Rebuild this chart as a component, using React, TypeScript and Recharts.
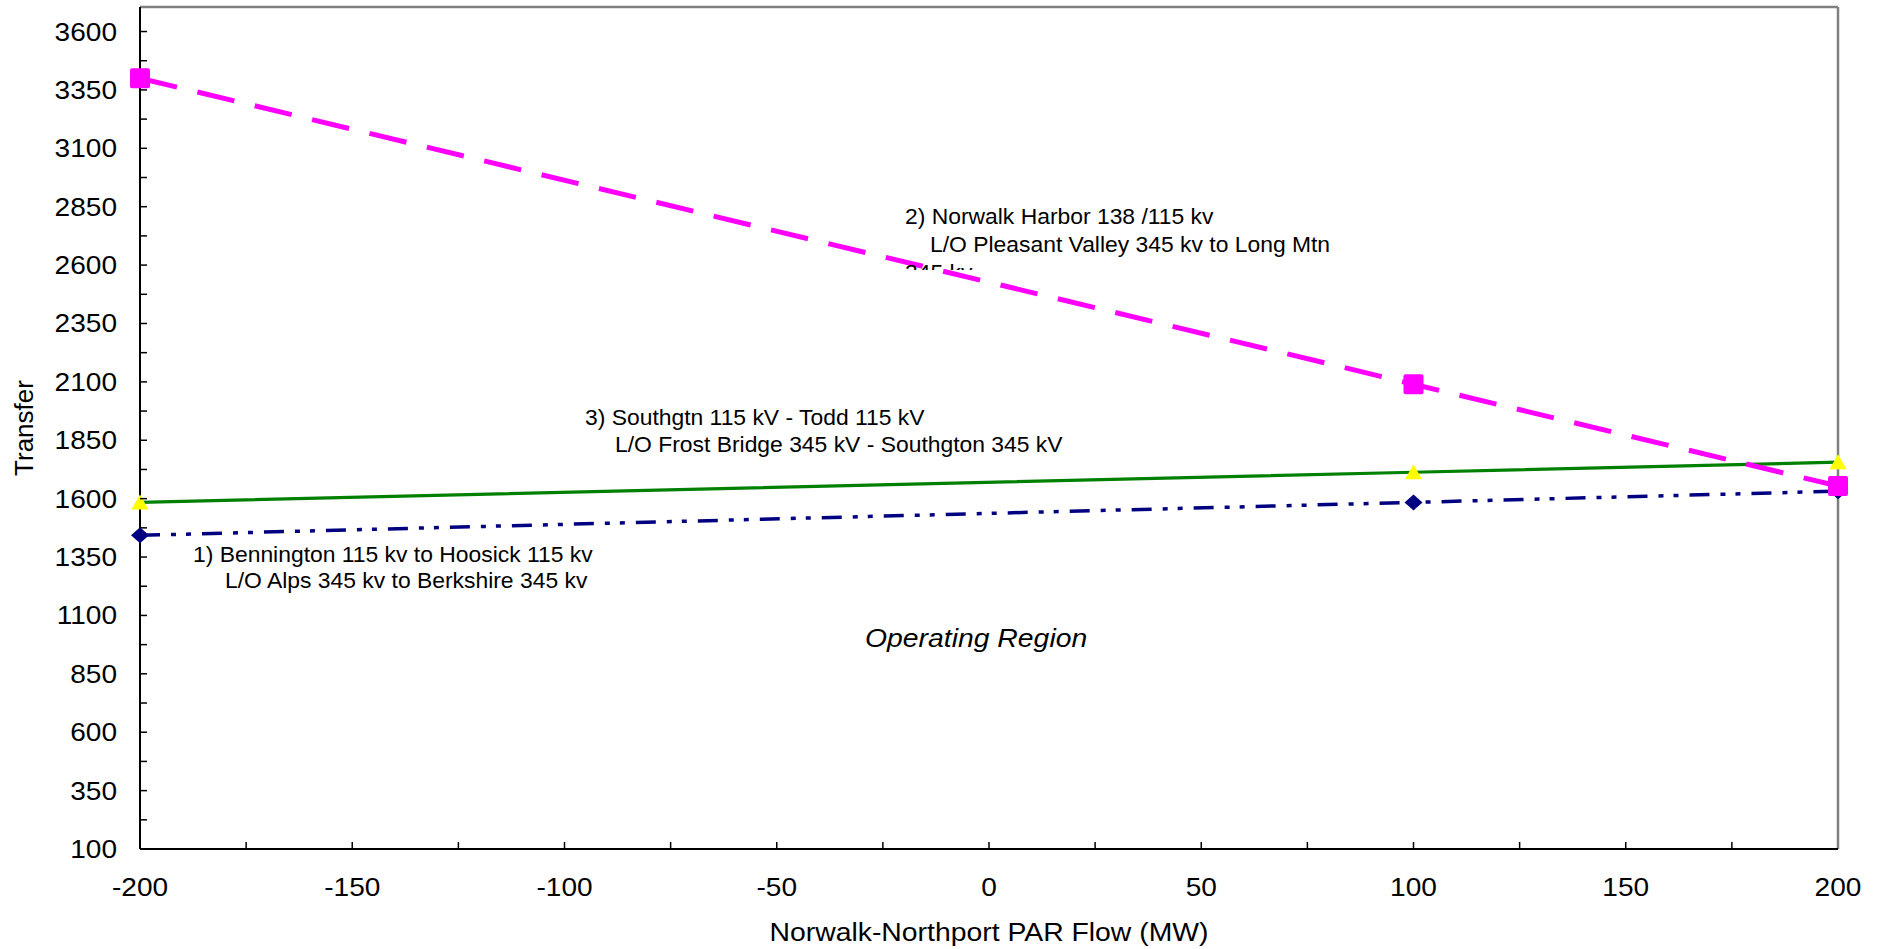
import React from 'react';
import { Line, LineChart, ReferenceLine, XAxis, YAxis } from 'recharts';

// PAR flow points (MW)
const flows = [-200, 100, 200];
// 1) Bennington 115 - Hoosick 115
const bennington = [1443, 1584, 1632];
// 2) Norwalk Harbor 138/115
const norwalkHarbor = [3400, 2090, 1654];
// 3) Southgtn 115 - Todd 115
const southgtn = [1584, 1713, 1756];

const xTicks = [-200, -175, -150, -125, -100, -75, -50, -25, 0, 25, 50, 75, 100, 125, 150, 175, 200];
const yTicks = [
  100, 225, 350, 475, 600, 725, 850, 975, 1100, 1225, 1350, 1475, 1600, 1725, 1850, 1975,
  2100, 2225, 2350, 2475, 2600, 2725, 2850, 2975, 3100, 3225, 3350, 3475, 3600,
];
const yMax = 3705;

const data = flows.map((f, i) => ({
  flow: f,
  bennington: bennington[i],
  norwalkHarbor: norwalkHarbor[i],
  southgtn: southgtn[i],
}));

const FONT = '"Liberation Sans", Arial, sans-serif';

// text slightly stretched sideways, like the original export
const SText = ({ x, y, size, sx = 1, anchor = 'start', italic = false, children }: any) => (
  <g transform={`translate(${x},${y}) scale(${sx},1)`}>
    <text
      x={0}
      y={0}
      textAnchor={anchor}
      fontSize={size}
      fontFamily={FONT}
      fontStyle={italic ? 'italic' : 'normal'}
      fill="#000"
    >
      {children}
    </text>
  </g>
);

const XTick = (props: any) => {
  const { x, y, payload } = props;
  const v = payload.value;
  const edge = v === -200 || v === 200;
  return (
    <g>
      {!edge && <line x1={x} x2={x} y1={y} y2={y - 7} stroke="#000" strokeWidth={1.5} />}
      {v % 50 === 0 && (
        <SText x={x} y={y + 47} size={25.5} sx={1.1} anchor="middle">
          {v}
        </SText>
      )}
    </g>
  );
};

const YTick = (props: any) => {
  const { x, y, payload } = props;
  const v = payload.value;
  const major = (v - 100) % 250 === 0;
  return (
    <g>
      {v !== 100 && <line x1={x} x2={x + 7} y1={y} y2={y} stroke="#000" strokeWidth={1.5} />}
      {major && (
        <SText x={x - 23} y={y + 9} size={25.5} sx={1.1} anchor="end">
          {v}
        </SText>
      )}
    </g>
  );
};

const SquareDot = (props: any) => {
  const { cx, cy } = props;
  if (cx == null || cy == null) return <g />;
  return <rect x={cx - 10} y={cy - 10} width={20} height={20} rx={2} fill="#ff00ff" />;
};

const TriangleDot = (props: any) => {
  const { cx, cy } = props;
  if (cx == null || cy == null) return <g />;
  return <path d={`M${cx},${cy - 8} L${cx + 8.5},${cy + 7} L${cx - 8.5},${cy + 7} Z`} fill="#ffff00" />;
};

const DiamondDot = (props: any) => {
  const { cx, cy } = props;
  if (cx == null || cy == null) return <g />;
  return <path d={`M${cx},${cy - 8} L${cx + 9},${cy} L${cx},${cy + 8} L${cx - 9},${cy} Z`} fill="#000080" />;
};

export default function App() {
  return (
    <div style={{ position: 'absolute', left: 0, top: 0, width: 1879, height: 949, background: '#fff' }}>
      <LineChart width={1879} height={949} data={data} margin={{ top: 7, right: 41, bottom: 0, left: 0 }}>
        <XAxis
          dataKey="flow"
          type="number"
          domain={[-200, 200]}
          ticks={xTicks}
          interval={0}
          tickSize={0}
          tickMargin={0}
          tickLine={false}
          height={100}
          axisLine={{ stroke: '#000', strokeWidth: 2 }}
          tick={(p: any) => <XTick {...p} />}
        />
        <YAxis
          type="number"
          domain={[100, yMax]}
          ticks={yTicks}
          interval={0}
          tickSize={0}
          tickMargin={0}
          tickLine={false}
          width={140}
          axisLine={{ stroke: '#000', strokeWidth: 2 }}
          tick={(p: any) => <YTick {...p} />}
        />
        <ReferenceLine y={yMax} stroke="#808080" strokeWidth={2.5} />
        <ReferenceLine x={200} stroke="#808080" strokeWidth={2.5} />
        <Line
          dataKey="bennington"
          stroke="#000080"
          strokeWidth={3.5}
          strokeDasharray="20 11 5 10 5 11"
          dot={(p: any) => <DiamondDot key={`d${p.index}`} {...p} />}
          isAnimationActive={false}
        />
        <Line
          dataKey="southgtn"
          stroke="#008000"
          strokeWidth={3.2}
          dot={(p: any) => <TriangleDot key={`t${p.index}`} {...p} />}
          isAnimationActive={false}
        />
        <Line
          dataKey="norwalkHarbor"
          stroke="#ff00ff"
          strokeWidth={5}
          strokeDasharray="38 21"
          dot={(p: any) => <SquareDot key={`s${p.index}`} {...p} />}
          isAnimationActive={false}
        />
      </LineChart>
      <svg
        width={1879}
        height={949}
        style={{ position: 'absolute', left: 0, top: 0, pointerEvents: 'none' }}
      >
        <defs>
          <clipPath id="clipNote2">
            <rect x={0} y={0} width={1879} height={270} />
          </clipPath>
        </defs>
        <SText x={989} y={941} size={26.5} sx={1.07} anchor="middle">
          Norwalk-Northport PAR Flow (MW)
        </SText>
        <g transform="rotate(-90 33 428)">
          <SText x={33} y={428} size={26} anchor="middle">
            Transfer
          </SText>
        </g>
        <g clipPath="url(#clipNote2)">
          <SText x={905} y={224} size={22} sx={1.04}>2) Norwalk Harbor 138 /115 kv</SText>
          <SText x={930} y={252} size={22} sx={1.04}>L/O Pleasant Valley 345 kv to Long Mtn</SText>
          <SText x={905} y={280} size={22} sx={1.04}>345 kv</SText>
        </g>
        <SText x={585} y={425} size={22} sx={1.04}>3) Southgtn 115 kV - Todd 115 kV</SText>
        <SText x={615} y={452} size={22} sx={1.04}>L/O Frost Bridge 345 kV - Southgton 345 kV</SText>
        <SText x={193} y={562} size={22} sx={1.04}>1) Bennington 115 kv to Hoosick 115 kv</SText>
        <SText x={225} y={588} size={22} sx={1.04}>L/O Alps 345 kv to Berkshire 345 kv</SText>
        <SText x={865} y={647} size={26.5} sx={1.07} italic>
          Operating Region
        </SText>
      </svg>
    </div>
  );
}
